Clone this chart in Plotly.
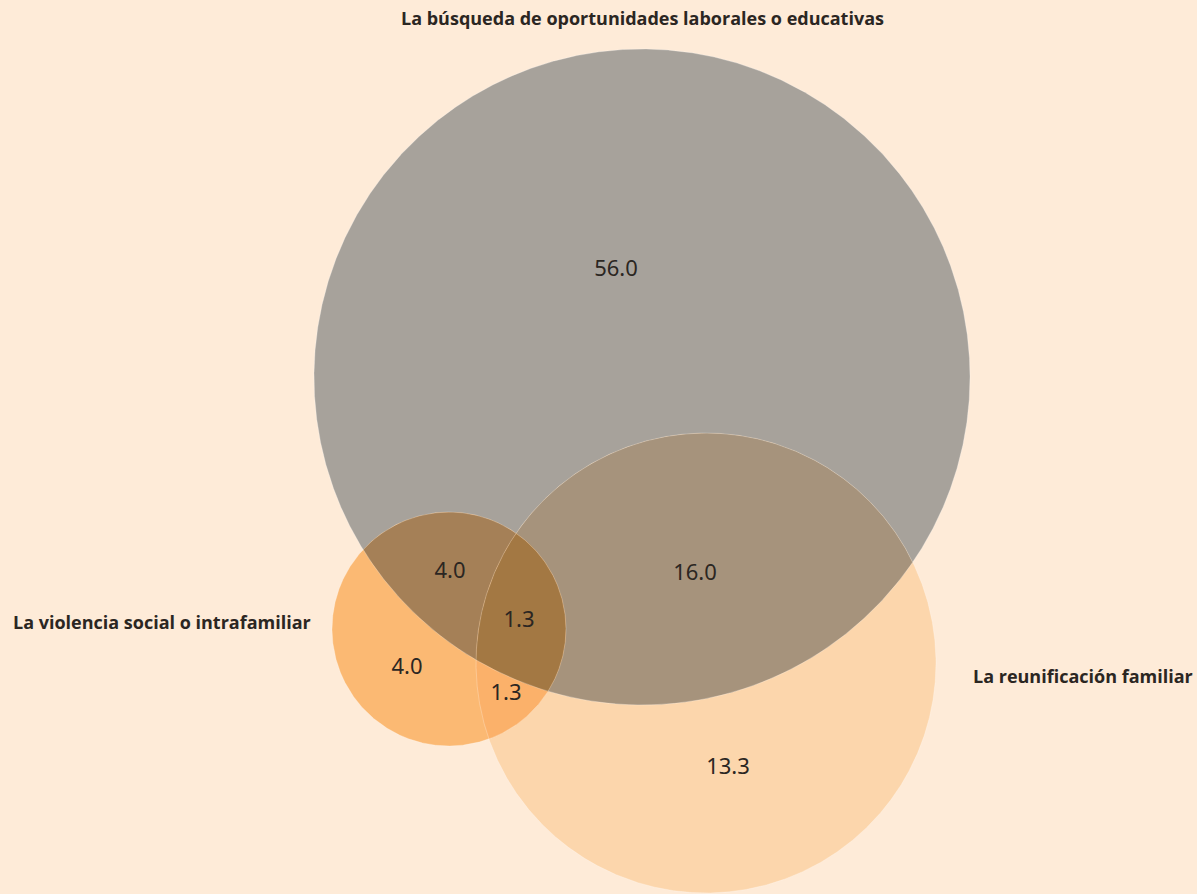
import numpy as np
import plotly.graph_objects as go

# Sets of the Venn diagram
set_keys = ["A", "B", "C"]
set_names = [
    "La búsqueda de oportunidades laborales o educativas",
    "La reunificación familiar",
    "La violencia social o intrafamiliar",
]

# Region values (exclusive parts of the diagram)
region_keys = ["A", "B", "C", "AB", "AC", "BC", "ABC"]
region_values = [56.0, 13.3, 4.0, 16.0, 4.0, 1.3, 1.3]

# Layout of the circles (pixel-like coordinates, y grows downward)
centers = {"A": (642, 377), "B": (706, 663), "C": (449, 629)}
radii = {"A": 328, "B": 230, "C": 117}

# Fill colour of each region
region_colors = {
    "A": "#A7A29B",
    "B": "#FCD6AC",
    "C": "#FBB973",
    "AB": "#A6937C",
    "AC": "#A58057",
    "BC": "#FBB16A",
    "ABC": "#A37843",
}

# Label anchor per region
label_pos = {
    "A": (616, 270), "B": (728, 768), "C": (407, 668),
    "AB": (695, 574), "AC": (450, 572), "BC": (506, 694), "ABC": (519, 621),
}

# Set title positions
title_pos = {
    "A": (642, 18, "center"),
    "B": (971, 676, "left"),
    "C": (11, 622, "left"),
}

BG = "#FEEBD8"
N = 2880


def circle_pts(k):
    cx, cy = centers[k]
    r = radii[k]
    t = np.linspace(0, 2 * np.pi, N, endpoint=False)
    return cx + r * np.cos(t), cy + r * np.sin(t)


def inside(x, y, k, tol=0.5):
    cx, cy = centers[k]
    return (x - cx) ** 2 + (y - cy) ** 2 <= (radii[k] + tol) ** 2


def intersection(keys):
    xs, ys = [], []
    for k in keys:
        x, y = circle_pts(k)
        m = np.ones_like(x, dtype=bool)
        for o in keys:
            if o != k:
                m &= inside(x, y, o)
        xs.append(x[m])
        ys.append(y[m])
    x = np.concatenate(xs)
    y = np.concatenate(ys)
    mx, my = x.mean(), y.mean()
    order = np.argsort(np.arctan2(y - my, x - mx))
    x, y = x[order], y[order]
    return np.append(x, x[0]), np.append(y, y[0])


fig = go.Figure()

# Draw full circles, then overlay the pairwise and triple intersections
draw_order = ["A", "B", "C", "AB", "AC", "BC", "ABC"]
for key in draw_order:
    if len(key) == 1:
        x, y = circle_pts(key)
        x, y = np.append(x, x[0]), np.append(y, y[0])
    else:
        x, y = intersection(list(key))
    fig.add_trace(go.Scatter(
        x=x, y=y, mode="lines", fill="toself",
        fillcolor=region_colors[key], line=dict(width=0, color=region_colors[key]),
        hoverinfo="skip", showlegend=False,
    ))

# Thin outlines of the circles
for k in set_keys:
    x, y = circle_pts(k)
    fig.add_trace(go.Scatter(
        x=np.append(x, x[0]), y=np.append(y, y[0]), mode="lines",
        line=dict(width=1, color="rgba(255,255,255,0.25)"),
        hoverinfo="skip", showlegend=False,
    ))

# Region value labels
fig.add_trace(go.Scatter(
    x=[label_pos[k][0] for k in region_keys],
    y=[label_pos[k][1] for k in region_keys],
    mode="text",
    text=[f"{v:.1f}" for v in region_values],
    textfont=dict(family="Noto Sans", size=22, color="#2b2622"),
    hoverinfo="skip", showlegend=False,
))

# Set titles
for k, name in zip(set_keys, set_names):
    px, py, anchor = title_pos[k]
    fig.add_annotation(
        x=px, y=py, text=f"<b>{name}</b>", showarrow=False,
        xanchor=anchor, yanchor="middle",
        font=dict(family="Open Sans", size=18, color="#2b2622"),
    )

fig.update_layout(
    width=1197, height=894,
    margin=dict(l=0, r=0, t=0, b=0),
    paper_bgcolor=BG, plot_bgcolor=BG,
    xaxis=dict(range=[0, 1197], visible=False, fixedrange=True),
    yaxis=dict(range=[894, 0], visible=False, fixedrange=True),
)

fig.write_html("out.html")
